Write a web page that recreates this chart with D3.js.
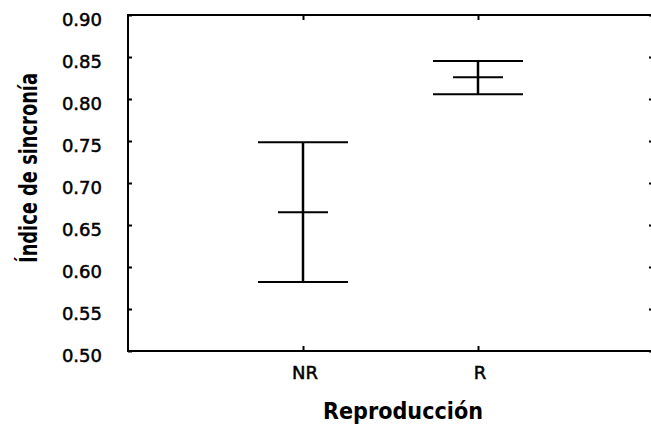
<!DOCTYPE html>
<html><head><meta charset="utf-8">
<script src="https://cdn.jsdelivr.net/npm/d3@7"></script>
<style>body{margin:0;background:#fff}svg{display:block}</style>
</head><body>
<svg id="c" width="651" height="424"></svg>
<script>
const categories = ["NR", "R"];
const upper = [0.7485, 0.8452];
const mean = [0.6651, 0.8258];
const lower = [0.5821, 0.8056];
const yTicks = [0.50, 0.55, 0.60, 0.65, 0.70, 0.75, 0.80, 0.85, 0.90];
const yTitle = "Índice de sincronía";
const xTitle = "Reproducción";

(function () {
const svg = d3.select("#c");
const L = 128, R = 653, T = 15, B = 351;
const x = d3.scalePoint().domain(categories).range([L, R]).padding(1);
const y = d3.scaleLinear().domain([0.5, 0.9]).range([B, T]);
const font = "DejaVu Sans, Verdana, sans-serif";

const axLeft = svg.append("g").attr("transform", `translate(${L},0)`)
  .call(d3.axisRight(y).tickValues(yTicks).tickSize(4).tickFormat(""));
const axRight = svg.append("g").attr("transform", `translate(${R},0)`)
  .call(d3.axisLeft(y).tickValues(yTicks).tickSize(4).tickFormat(""));
const axBottom = svg.append("g").attr("transform", `translate(0,${B})`)
  .call(d3.axisTop(x).tickSize(5).tickFormat(""));
const axTop = svg.append("g").attr("transform", `translate(0,${T})`)
  .call(d3.axisBottom(x).tickSize(5).tickFormat(""));
[axLeft, axRight, axBottom, axTop].forEach(g => {
  g.selectAll(".domain").remove();
  g.selectAll(".tick line").attr("stroke", "#000").attr("stroke-width", 2);
});
svg.append("path").attr("d", `M${R},${T}H${L}V${B}H${R}`)
  .attr("fill", "none").attr("stroke", "#000").attr("stroke-width", 2);

svg.append("g").selectAll("text").data(yTicks).join("text")
  .attr("x", L - 26).attr("y", d => y(d) + 6).attr("text-anchor", "end")
  .attr("dominant-baseline", "middle")
  .attr("font-family", font).attr("font-size", 18).attr("fill", "#000")
  .attr("stroke", "#000").attr("stroke-width", 0.5)
  .text(d => d3.format(".2f")(d));
svg.append("g").selectAll("text").data(categories).join("text")
  .attr("x", d => x(d) + 2).attr("y", 379).attr("text-anchor", "middle")
  .attr("font-family", font).attr("font-size", 18).attr("fill", "#000")
  .attr("stroke", "#000").attr("stroke-width", 0.5)
  .text(d => d);

const g = svg.append("g").attr("stroke", "#000").attr("stroke-width", 2);
categories.forEach((c, i) => {
  const cx = x(c);
  g.append("line").attr("x1", cx).attr("x2", cx).attr("y1", y(upper[i])).attr("y2", y(lower[i])).attr("stroke-width", 2.5);
  g.append("line").attr("x1", cx - 45).attr("x2", cx + 45).attr("y1", y(upper[i])).attr("y2", y(upper[i]));
  g.append("line").attr("x1", cx - 45).attr("x2", cx + 45).attr("y1", y(lower[i])).attr("y2", y(lower[i]));
  g.append("line").attr("x1", cx - 25).attr("x2", cx + 25).attr("y1", y(mean[i])).attr("y2", y(mean[i]));
});

svg.append("text").attr("x", 403).attr("y", 419).attr("text-anchor", "middle")
  .attr("font-family", font).attr("font-weight", "bold").attr("font-size", 23).attr("fill", "#000")
  .attr("textLength", 160).attr("lengthAdjust", "spacingAndGlyphs")
  .text(xTitle);
svg.append("text").attr("transform", "translate(37,168) rotate(-90)").attr("text-anchor", "middle")
  .attr("font-family", font).attr("font-weight", "bold").attr("font-size", 24).attr("fill", "#000")
  .attr("textLength", 190).attr("lengthAdjust", "spacingAndGlyphs")
  .text(yTitle);
})();
</script>
</body></html>
